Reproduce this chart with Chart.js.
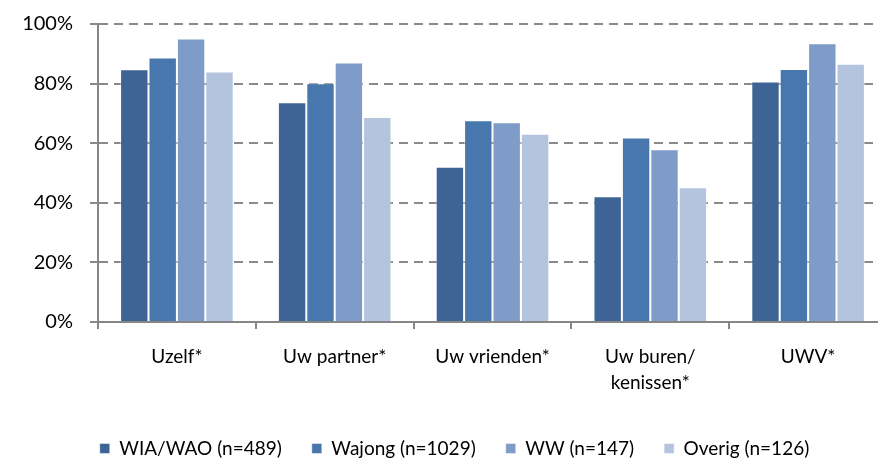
<!DOCTYPE html>
<html>
<head>
<meta charset="utf-8">
<script src="https://cdn.jsdelivr.net/npm/chart.js@4"></script>
<style>
  html, body { margin: 0; padding: 0; background: #fff; overflow: hidden; }
  #wrap { width: 890px; height: 458px; }
</style>
</head>
<body>
<div id="wrap"><canvas id="chart" width="890" height="458"></canvas></div>
<script>
// categories and series (percentages)
const categories = ['Uzelf*', 'Uw partner*', 'Uw vrienden*', ['Uw buren/', 'kenissen*'], 'UWV*'];
const wiaWao = [84.8, 73.7, 52.1, 42.2, 80.7];
const wajong = [88.8, 80.1, 67.7, 61.9, 84.9];
const ww = [95.1, 87.1, 67.0, 58.0, 93.5];
const overig = [84.1, 68.8, 63.2, 45.2, 86.7];
const seriesLabels = ['WIA/WAO (n=489)', 'Wajong (n=1029)', 'WW (n=147)', 'Overig (n=126)'];
const seriesColors = ['#3D6495', '#4877AE', '#7F9BC7', '#B4C4DE'];
const yTicks = [0, 20, 40, 60, 80, 100];

const fontFamily = 'Lato, "Open Sans", sans-serif';
const ctx = document.getElementById('chart').getContext('2d');

// nudge the legend right and down, like the original
const legendShift = {
    id: 'legendShift',
    afterLayout(chart) {
        chart.legend.left += 22;
        chart.legend.top += 10;
        chart.legend.bottom += 10;
    }
};

new Chart(ctx, {
    type: 'bar',
    data: {
        labels: categories,
        datasets: [wiaWao, wajong, ww, overig].map((d, i) => ({
            label: seriesLabels[i],
            data: d,
            backgroundColor: seriesColors[i],
            borderColor: 'rgba(255,255,255,0.45)',
            borderWidth: 1,
            barPercentage: 1,
            categoryPercentage: 0.72
        }))
    },
    options: {
        responsive: false,
        animation: false,
        layout: { padding: { top: 24, right: 3, left: 0, bottom: 0 } },
        plugins: {
            tooltip: { enabled: false },
            legend: {
                position: 'bottom',
                labels: {
                    boxWidth: 10,
                    boxHeight: 10,
                    padding: 30,
                    color: '#000',
                    font: { family: fontFamily, size: 19 }
                }
            }
        },
        scales: {
            x: {
                afterFit: s => { s.height = 77; },
                grid: {
                    drawOnChartArea: false,
                    drawTicks: true,
                    tickLength: 7,
                    color: '#868686',
                    lineWidth: 2
                },
                border: { color: '#868686', width: 2 },
                ticks: {
                    color: '#000',
                    padding: 15,
                    maxRotation: 0,
                    font: { family: fontFamily, size: 19, lineHeight: 1.38 }
                }
            },
            y: {
                min: 0,
                max: 100,
                afterFit: s => { s.width = 98; s.paddingTop = 0; },
                afterBuildTicks: s => { s.ticks = yTicks.map(v => ({ value: v })); },
                grid: {
                    color: '#8a8a8a',
                    lineWidth: 2,
                    tickLength: 8,
                    tickBorderDash: [],
                    tickColor: '#8a8a8a'
                },
                border: { color: '#868686', width: 2, dash: [9, 6], display: true },
                ticks: {
                    color: '#000',
                    padding: 17,
                    callback: v => v + '%',
                    font: { family: fontFamily, size: 20 }
                }
            }
        }
    },
    plugins: [legendShift]
});
</script>
</body>
</html>
